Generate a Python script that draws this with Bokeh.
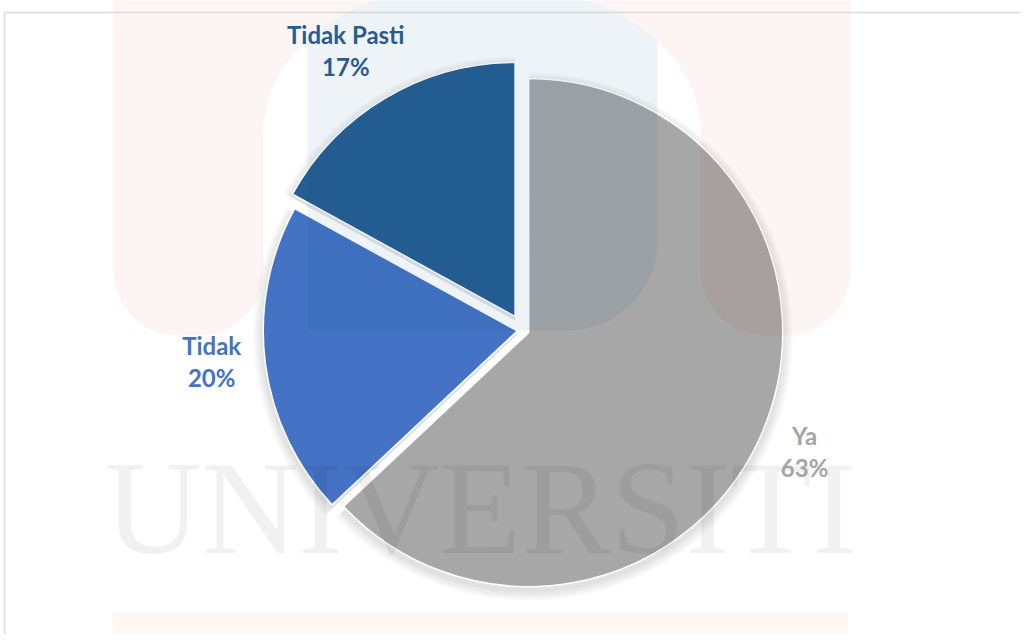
import math
import numpy as np
from bokeh.plotting import figure
from bokeh.models import Range1d, ColumnDataSource
from bokeh.core.properties import value
from bokeh.embed import file_html
from bokeh.resources import INLINE

# ---- data ----
categories = ["Ya", "Tidak", "Tidak Pasti"]
values = [63, 20, 17]
pct_labels = ["63%", "20%", "17%"]

# ---- styles ----
slice_colors = ["#A7A7A7", "#4472C4", "#255E91"]
label_colors = ["#A5A5A5", "#4472C4", "#2B5B8C"]

W, H = 1020, 634


def Y(py):
    return H - py


p = figure(width=W, height=H, x_range=Range1d(0, W), y_range=Range1d(0, H),
           output_backend="svg", toolbar_location=None, min_border=0)
p.axis.visible = False
p.grid.visible = False
p.outline_line_color = None
p.background_fill_color = "white"
p.border_fill_color = "white"

# ---- watermark shapes ----
def arc_pts(cx, cy, r, a0, a1, n=20):
    t = np.linspace(a0, a1, n)
    return list(cx + r * np.cos(t)), list(cy + r * np.sin(t))

ex, ey, erx, ery = 481.5, 130, 218.5, 150
ax, ay = [], []
ax += [113, 113]; ay += [-60, 270]
xx, yy = arc_pts(178, 270, 65, math.pi, math.pi / 2, 12); ax += xx; ay += yy
xx, yy = arc_pts(198, 270, 65, math.pi / 2, 0, 12); ax += xx; ay += yy
ax += [263]; ay += [ey]
t = np.linspace(math.pi, 2 * math.pi, 40)
ax += list(ex + erx * np.cos(t)); ay += list(ey + ery * np.sin(t))
ax += [700]; ay += [270]
xx, yy = arc_pts(765, 270, 65, math.pi, math.pi / 2, 12); ax += xx; ay += yy
xx, yy = arc_pts(785, 270, 65, math.pi / 2, 0, 12); ax += xx; ay += yy
ax += [850, 850]; ay += [270, -60]

bx = list(np.linspace(307, 657, 40))
by = [ey - ery * math.sqrt(max(0.0, 1 - ((x - ex) / erx) ** 2)) for x in bx]
xx, yy = arc_pts(567, 240, 90, 0, math.pi / 2, 14)
bx += xx; by += yy
bx += [307]; by += [330]

# ---- pie geometry ----
cx, cy = 522.7, Y(329.7)
R = 254
explode = [6, 6, 16]
label_r = 305
label_nudge = [(-4, -2), (-3, -8), (-14, -3)]

total = float(sum(values))
cum = np.cumsum([0.0] + [v / total for v in values])
starts = [math.pi / 2 - 2 * math.pi * cum[i + 1] for i in range(len(values))]
ends = [math.pi / 2 - 2 * math.pi * cum[i] for i in range(len(values))]
mids = [(s + e) / 2 for s, e in zip(starts, ends)]
xs = [cx + d * math.cos(m) for d, m in zip(explode, mids)]
ys = [cy + d * math.sin(m) for d, m in zip(explode, mids)]

src = ColumnDataSource(dict(x=xs, y=ys, start=starts, end=ends, color=slice_colors,
                            cat=categories, val=values))

# soft shadow
shadow_src = ColumnDataSource(dict(x=xs, y=[y - 4 for y in ys], start=starts, end=ends))
for k in [10, 8, 6, 4, 2]:
    p.wedge(x="x", y="y", radius=R + k, start_angle="start", end_angle="end",
            source=shadow_src, fill_color="black", fill_alpha=0.022, line_color=None)

p.wedge(x="x", y="y", radius=R, start_angle="start", end_angle="end", fill_color="color",
        line_color="white", line_width=1.5, source=src)

# watermark overlays (translucent, on top like the scan)
p.patch(ax, [Y(v) for v in ay], fill_color="#d90505", fill_alpha=0.045, line_color=None)
p.patch(bx, [Y(v) for v in by], fill_color="#00458d", fill_alpha=0.065, line_color=None)
p.quad(left=[112], right=[848], bottom=[Y(645)], top=[Y(612)], fill_color="#ff6900",
       fill_alpha=0.055, line_color=None)
p.text(x=[480], y=[Y(507)], text=["UNIVERSITI"], text_font=value("Liberation Serif"),
       text_font_size="134px", text_align="center", text_baseline="middle",
       text_color="black", text_alpha=0.055)

# ---- labels ----
lx = [x + label_r * math.cos(m) + n[0] for x, m, n in zip(xs, mids, label_nudge)]
ly = [y + label_r * math.sin(m) - n[1] for y, m, n in zip(ys, mids, label_nudge)]
p.text(x=lx, y=[v + 16 for v in ly], text=categories, text_color=label_colors,
       text_font=value("Lato"), text_font_style="bold", text_font_size="24px",
       text_align="center", text_baseline="middle")
p.text(x=lx, y=[v - 16 for v in ly], text=pct_labels, text_color=label_colors,
       text_font=value("Lato"), text_font_style="bold", text_font_size="24px",
       text_align="center", text_baseline="middle")

# chart area border
p.segment(x0=[4, 4], y0=[Y(12), Y(12)], x1=[W, 4], y1=[Y(12), 0],
          line_color="#d9d9d9", line_width=1.5)

open("out.html", "w").write(file_html(p, INLINE))
